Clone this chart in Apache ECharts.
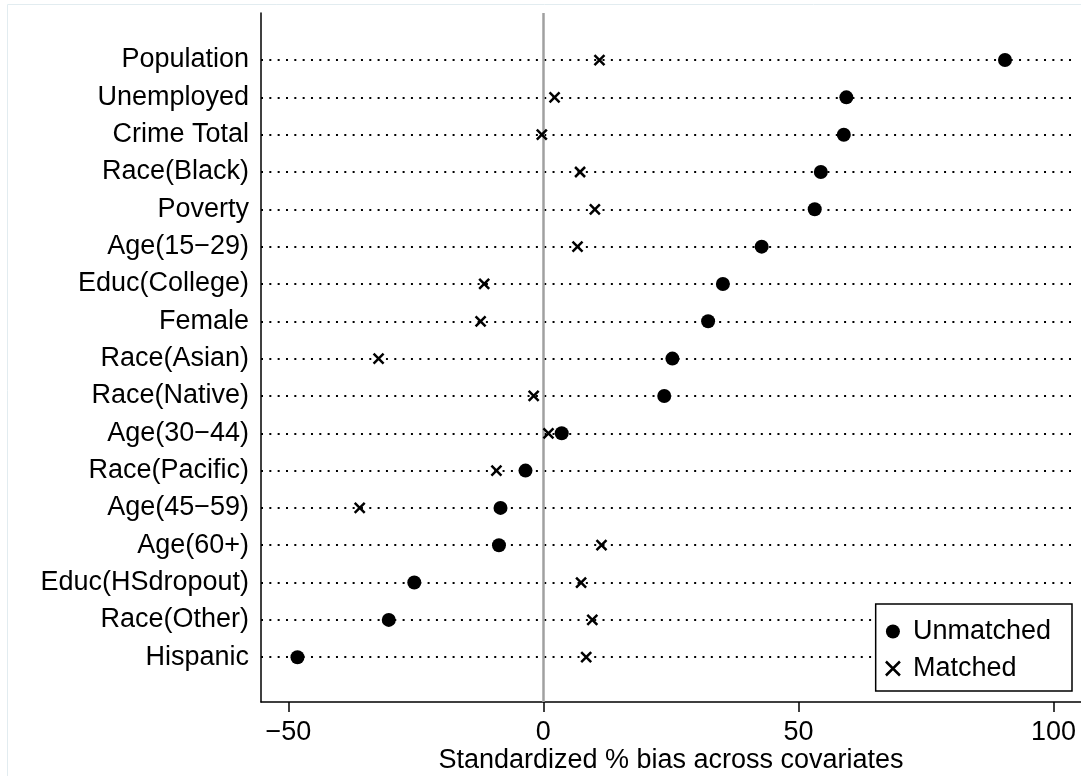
<!DOCTYPE html>
<html>
<head>
<meta charset="utf-8">
<script src="https://cdn.jsdelivr.net/npm/echarts@6/dist/echarts.min.js"></script>
<style>
  html, body { margin: 0; padding: 0; background: #fff; }
  #chart { width: 1081px; height: 776px; }
</style>
</head>
<body>
<div id="chart"></div>
<script>
// covariates, top to bottom
var covariates = ['Population', 'Unemployed', 'Crime Total', 'Race(Black)', 'Poverty', 'Age(15\u221229)',
  'Educ(College)', 'Female', 'Race(Asian)', 'Race(Native)', 'Age(30\u221244)', 'Race(Pacific)',
  'Age(45\u221259)', 'Age(60+)', 'Educ(HSdropout)', 'Race(Other)', 'Hispanic'];
// standardized % bias
var unmatched = [90.5, 59.4, 58.9, 54.4, 53.2, 42.8, 35.2, 32.3, 25.3, 23.7, 3.6, -3.5, -8.4, -8.7, -25.3, -30.3, -48.2];
var matched = [11.0, 2.2, -0.3, 7.2, 10.1, 6.7, -11.6, -12.3, -32.3, -1.9, 1.0, -9.2, -36.0, 11.4, 7.4, 9.6, 8.4];
var xTicks = [-50, 0, 50, 100];

var font = "'Liberation Sans', Arial, sans-serif";
var xMin = -55.35, xMax = 105.4, dotEnd = 103.9;

var rowIdx = covariates.map(function (c, i) { return i; });

var chart = echarts.init(document.getElementById('chart'));

// dotted guide line per row
var guides = rowIdx.map(function (i) {
  return [{ coord: [xMin, i] }, { coord: [dotEnd, i] }];
});

var option = {
  animation: false,
  textStyle: { fontFamily: font },
  graphic: [{
    type: 'rect',
    shape: { x: 7.5, y: 4.5, width: 1200, height: 900 },
    style: { fill: 'none', stroke: '#e2ecf0', lineWidth: 1 },
    silent: true
  }],
  grid: { left: 261, right: 0, top: 13, bottom: 74, containLabel: false, outerBoundsMode: 'none' },
  legend: {
    orient: 'vertical',
    right: 9,
    top: 604,
    z: 20,
    padding: [14, 21, 9, 9],
    itemGap: 10,
    itemWidth: 30,
    itemHeight: 14,
    backgroundColor: '#fff',
    borderColor: '#000',
    borderWidth: 1.5,
    borderRadius: 0,
    textStyle: { fontSize: 27, color: '#000', fontFamily: font },
    data: [
      { name: 'Unmatched' },
      { name: 'Matched', itemStyle: { color: '#000', borderColor: '#000', borderWidth: 2.5 } }
    ]
  },
  xAxis: {
    type: 'value',
    min: xMin,
    max: xMax,
    name: 'Standardized % bias across covariates',
    nameLocation: 'middle',
    nameGap: 45,
    nameMoveOverlap: false,
    nameTextStyle: { fontSize: 27, color: '#000', fontFamily: font },
    axisLine: { onZero: false, lineStyle: { color: '#000', width: 1.5 } },
    axisTick: { show: true, customValues: xTicks, length: 10, lineStyle: { color: '#000', width: 1.5 } },
    axisLabel: {
      customValues: xTicks,
      margin: 17,
      fontSize: 27,
      color: '#000',
      formatter: function (v) { return String(v).replace('-', '\u2212'); }
    },
    splitLine: { show: false }
  },
  yAxis: {
    type: 'value',
    inverse: true,
    min: -1.26,
    max: 17.2,
    axisLine: { show: true, onZero: false, lineStyle: { color: '#000', width: 1.5 } },
    axisTick: { show: false },
    axisLabel: {
      customValues: rowIdx,
      margin: 12,
      fontSize: 27,
      color: '#000',
      padding: [4, 0, 0, 0],
      formatter: function (v) { return covariates[v]; }
    },
    splitLine: { show: false }
  },
  series: [
    {
      name: 'guides',
      type: 'scatter',
      data: [],
      silent: true,
      markLine: {
        silent: true,
        symbol: 'none',
        label: { show: false },
        lineStyle: { color: '#000', width: 2, type: [2, 6.33], opacity: 1 },
        data: guides
      }
    },
    {
      name: 'zero',
      type: 'scatter',
      data: [],
      silent: true,
      markLine: {
        silent: true,
        symbol: 'none',
        label: { show: false },
        lineStyle: { color: '#a0a0a0', width: 2.5, type: 'solid', opacity: 1 },
        data: [{ xAxis: 0 }]
      }
    },
    {
      name: 'Unmatched',
      type: 'scatter',
      symbol: 'circle',
      symbolSize: 14,
      itemStyle: { color: '#000', opacity: 1 },
      data: unmatched.map(function (v, i) { return [v, i]; }),
      z: 5
    },
    {
      name: 'Matched',
      type: 'scatter',
      symbol: 'path://M0,0L10,10M10,0L0,10',
      symbolSize: 10,
      itemStyle: { color: '#000', borderColor: '#000', borderWidth: 2.5, opacity: 1 },
      data: matched.map(function (v, i) { return [v, i]; }),
      z: 6
    }
  ]
};

chart.setOption(option);
</script>
</body>
</html>
